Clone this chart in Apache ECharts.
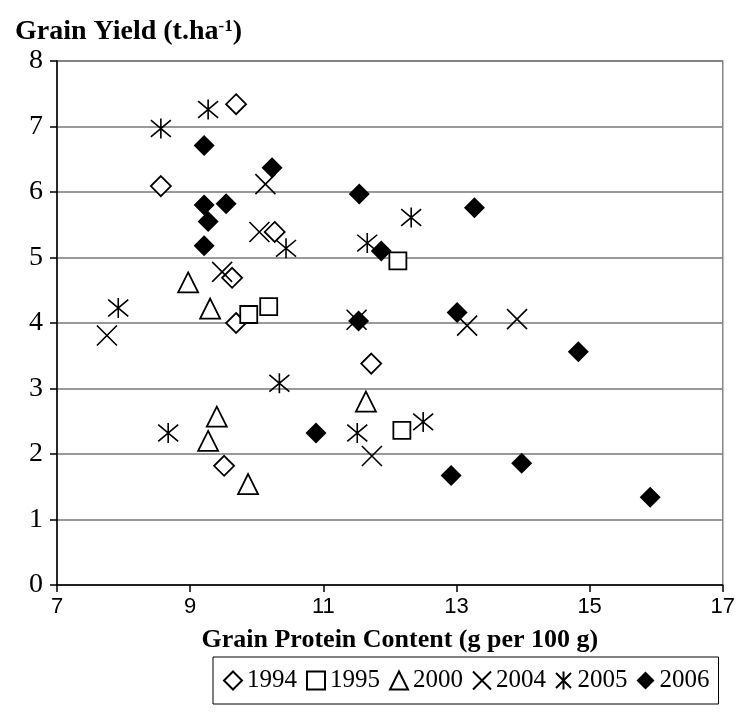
<!DOCTYPE html>
<html>
<head>
<meta charset="utf-8">
<script src="https://cdn.jsdelivr.net/npm/echarts@6/dist/echarts.min.js"></script>
<style>
  html, body { margin: 0; padding: 0; background: #fff; }
  #chart { width: 738px; height: 725px; }
</style>
</head>
<body>
<div id="chart"></div>
<script>
  // [protein, yield] per year
  const y1994 = [[9.69, 7.34], [8.56, 6.09], [10.27, 5.39], [9.63, 4.69], [9.69, 4.00], [9.51, 1.82], [11.72, 3.38]];
  const y1995 = [[10.18, 4.25], [9.88, 4.13], [12.12, 4.95], [12.18, 2.36]];
  const y2000 = [[8.97, 4.62], [9.30, 4.22], [9.40, 2.57], [9.27, 2.20], [9.87, 1.54], [11.64, 2.80]];
  const y2004 = [[10.13, 6.12], [10.04, 5.39], [9.48, 4.78], [7.75, 3.81], [11.50, 4.05], [13.16, 3.96], [13.91, 4.06], [11.73, 1.97]];
  const y2005 = [[8.56, 6.97], [9.27, 7.26], [10.44, 5.14], [7.92, 4.23], [10.34, 3.08], [8.67, 2.32], [12.32, 5.61], [11.66, 5.22], [11.51, 2.32], [12.50, 2.49]];
  const y2006 = [[9.21, 6.71], [10.23, 6.37], [9.21, 5.80], [9.54, 5.82], [9.27, 5.55], [9.21, 5.18], [11.54, 5.97], [13.27, 5.76], [11.87, 5.10], [11.53, 4.03], [13.01, 4.16], [14.83, 3.56], [10.89, 2.32], [12.92, 1.67], [13.98, 1.86], [15.91, 1.34]];
  const yearNames = ['1994', '1995', '2000', '2004', '2005', '2006'];

  const serif = '"Liberation Serif", "DejaVu Serif", serif';
  const sans = '"Liberation Sans", Arial, sans-serif';

  const crossPath = 'path://M0,0L10,10M10,0L0,10';
  const starPath = 'path://M0,0L10,10M10,0L0,10M5,-1L5,11';

  const openStyle = { color: '#fff', borderColor: '#000', borderWidth: 1.8, opacity: 1 };
  const lineStyle = { color: 'transparent', borderColor: '#000', borderWidth: 1.6, opacity: 1 };

  const chart = echarts.init(document.getElementById('chart'));
  chart.setOption({
    animation: false,
    title: {
      text: '{b|Grain Yield (t.ha}{s|-1}{b|)}',
      left: 10,
      top: 13,
      textStyle: {
        rich: {
          b: { fontFamily: serif, fontWeight: 'bold', fontSize: 28, color: '#000' },
          s: { fontFamily: serif, fontWeight: 'bold', fontSize: 17, color: '#000', padding: [0, 0, 11, 0] },
        },
      },
    },
    grid: { left: 57, right: 14, top: 61, bottom: 140, show: true, borderColor: '#888', borderWidth: 1.5 },
    legend: {
      data: yearNames,
      left: 213,
      top: 657,
      padding: [11, 9, 11, 10],
      itemGap: 9,
      itemWidth: 18,
      itemHeight: 18,
      borderColor: '#000',
      borderWidth: 1,
      textStyle: { fontFamily: serif, fontSize: 25, color: '#000' },
    },
    xAxis: {
      type: 'value',
      min: 7,
      max: 17,
      interval: 2,
      name: 'Grain Protein Content (g per 100 g)',
      nameLocation: 'middle',
      nameGap: 42,
      nameTextStyle: { fontFamily: serif, fontWeight: 'bold', fontSize: 26, color: '#000', padding: [0, 0, 0, 20] },
      axisLine: { lineStyle: { color: '#000', width: 1.5 } },
      axisTick: { length: 7, lineStyle: { color: '#000', width: 1.5 } },
      axisLabel: { fontFamily: sans, fontSize: 22, color: '#000', margin: 11 },
      splitLine: { show: false },
    },
    yAxis: {
      type: 'value',
      min: 0,
      max: 8,
      interval: 1,
      axisLine: { show: true, lineStyle: { color: '#000', width: 1.5 } },
      axisTick: { show: true, length: 7, lineStyle: { color: '#000', width: 1.5 } },
      axisLabel: { fontFamily: serif, fontSize: 28, color: '#000', margin: 14 },
      splitLine: { lineStyle: { color: '#777', width: 1.5 } },
    },
    series: [
      { name: '1994', type: 'scatter', data: y1994, symbol: 'diamond', symbolSize: 20, itemStyle: openStyle },
      { name: '1995', type: 'scatter', data: y1995, symbol: 'rect', symbolSize: 17, itemStyle: openStyle },
      { name: '2000', type: 'scatter', data: y2000, symbol: 'triangle', symbolSize: 20, itemStyle: openStyle },
      { name: '2004', type: 'scatter', data: y2004, symbol: crossPath, symbolSize: 20, itemStyle: lineStyle },
      { name: '2005', type: 'scatter', data: y2005, symbol: starPath, symbolSize: 20, itemStyle: lineStyle },
      { name: '2006', type: 'scatter', data: y2006, symbol: 'diamond', symbolSize: 21, itemStyle: { color: '#000', opacity: 1 } },
    ],
  });
</script>
</body>
</html>
